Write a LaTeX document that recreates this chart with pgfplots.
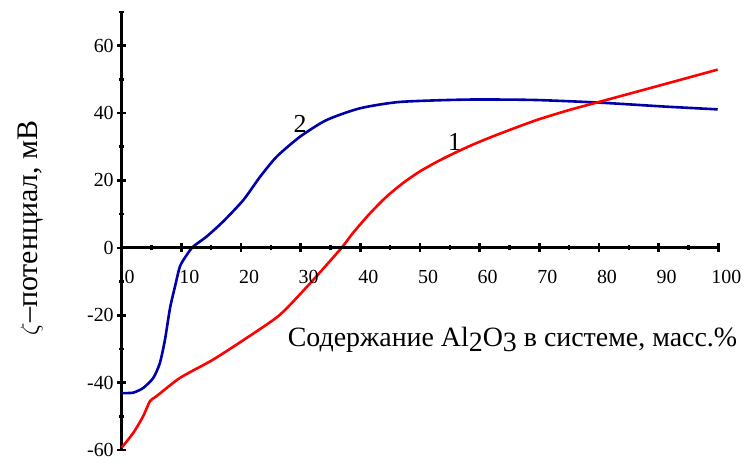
\documentclass[border=0pt]{standalone}
\usepackage{fontspec}
\setmainfont{Liberation Serif}
\usepackage{pgfplots}
\pgfplotsset{compat=1.18}
\definecolor{curveblue}{RGB}{0,0,170}
\definecolor{curvered}{RGB}{255,0,0}

\pgfplotsset{
  zetaframe/.style={
    scale only axis,
    width=596.6bp,
    xmin=0, xmax=100,
    axis line style={-, black, line width=3bp},
    every tick/.append style={black, line width=2.6bp},
    every major tick/.append style={black, line width=2.6bp},
    every minor tick/.append style={black, line width=2.6bp},
    major tick length=9bp, minor tick length=5bp,
    tick align=outside,
    tick label style={font=\fontsize{20}{24}\selectfont},
    /pgf/number format/assume math mode=true,
  },
}

\begin{document}
\begin{tikzpicture}
% curves and the vertical axis
\begin{axis}[
  zetaframe,
  name=main, at={(0,0)}, anchor=south west,
  height=438bp,
  ymin=-60, ymax=70,
  axis x line=none, axis y line=left,
  y axis line style={-, line width=3bp},
  clip=false,
  ytick={-60,-40,...,60},
  yticklabels={-60,-40,-20,0,20,40,60},
  minor ytick={-50,-30,...,70},
  ytick pos=left,
]
\addplot[curveblue, line width=2.6bp, smooth, tension=0.4] coordinates {
  (0,-43.1) (1.9,-43.0) (3.6,-41.6) (5.3,-38.6) (6.4,-34.2) (7.25,-27.3)
  (8.1,-17.9) (8.93,-11.5) (9.77,-5.5) (10.9,-2.1) (12,0.4) (14.2,3.3)
  (17.0,7.8) (20.4,14.2) (23.2,21.1) (26.0,27.1) (29.9,33.0)
  (34.3,37.9) (39.9,41.4) (46.6,43.3) (57.8,44.0) (68.9,43.9) (80.1,43.1)
  (91.3,41.9) (99.9,41.1)
};
\addplot[curvered, line width=2.6bp, smooth, tension=0.4] coordinates {
  (0,-59.3) (1.95,-54.9) (3.6,-50) (4.74,-45.5) (5.86,-44.0) (9.77,-38.6)
  (15.3,-33.2) (20.9,-26.8) (26.5,-19.9) (31.7,-10.3) (36.85,0)
  (38.8,4.5) (41.6,10.2) (44.4,15.2) (47.2,19.3) (50,22.7) (52.8,25.5)
  (55.5,27.9) (58.3,30.2) (61.1,32.3) (64,34.3) (67,36.3) (70,38.2)
  (75,40.9) (80,43.3) (90,48.1) (99.9,52.9)
};
\node[font=\fontsize{26}{30}\selectfont] at (axis cs:29.9,36.9) {2};
\node[font=\fontsize{26}{30}\selectfont] at (axis cs:55.8,31.5) {1};
\node[font=\fontsize{28}{32}\selectfont, anchor=base] at (axis cs:65.5,-29.3)
  {Содержание Al\raisebox{-5bp}{2}O\raisebox{-5bp}{3} в системе, масс.\%};
\node[font=\fontsize{30}{34}\selectfont, rotate=90] at (axis cs:-15.2,5.9)
  {$\zeta$–потенциал, мВ};
\end{axis}
% horizontal axis through zero
\begin{axis}[
  zetaframe,
  at={(0,202.154bp)}, anchor=south west,
  height=10bp,
  ymin=0, ymax=1,
  axis x line=bottom, axis y line=none,
  x axis line style={-, line width=3bp},
  xtick={0,10,...,100},
  xticklabels={0,10,20,30,40,50,60,70,80,90,100},
  minor xtick={5,15,...,95},
  xtick pos=bottom,
  xticklabel style={xshift=8bp, yshift=-14bp},
]
\end{axis}
\pgfresetboundingbox
\path[use as bounding box] ([shift={(-121.7bp,-13bp)}]main.south west)
  rectangle ([shift={(27.7bp,12bp)}]main.north east);
\end{tikzpicture}
\end{document}
